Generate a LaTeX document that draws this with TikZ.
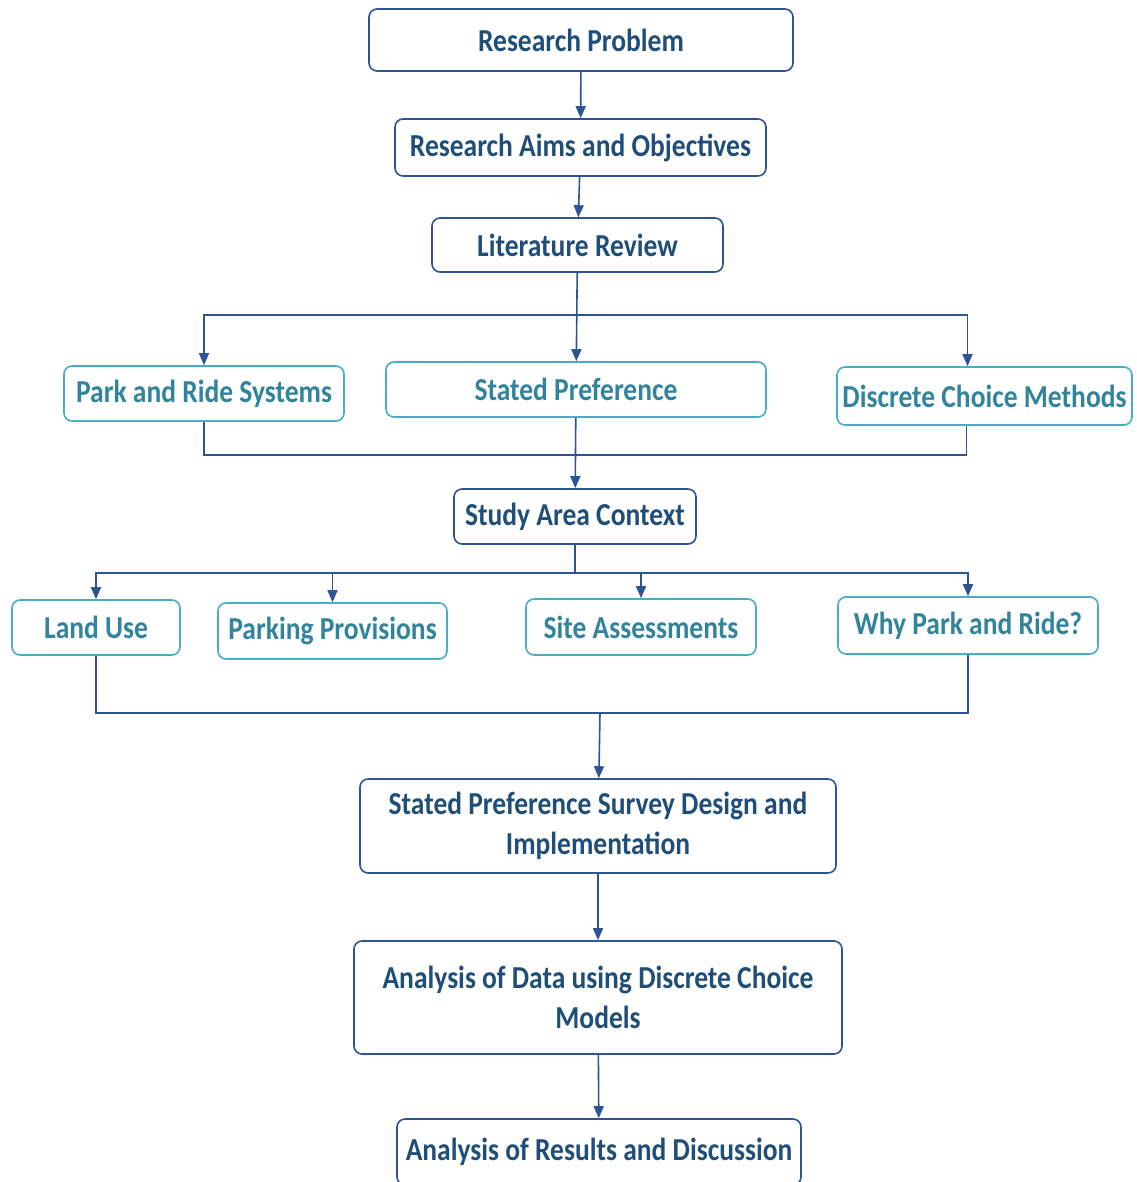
\documentclass[tikz,border=0pt]{standalone}
\usepackage{fontspec}
\setmainfont{Carlito}[FakeStretch=0.86]
\usepackage{tikz}
\usetikzlibrary{arrows.meta}

\definecolor{darkblue}{HTML}{1F4E79}
\definecolor{lineblue}{HTML}{2F5496}
\definecolor{tealtext}{HTML}{31849B}
\definecolor{tealline}{HTML}{4BACC6}

\tikzset{
  main/.style={draw=lineblue, line width=0.8pt, rounded corners=4pt, fill=white,
    text=darkblue, inner sep=0pt, align=center,
    font=\bfseries\fontsize{16}{20}\selectfont},
  topic/.style={main, draw=tealline, text=tealtext},
  link/.style={draw=lineblue, line width=0.8pt},
  arrow/.style={link, -{Triangle[length=6pt, width=5pt]}}
}

\begin{document}
\begin{tikzpicture}[x=0.5pt, y=-0.5pt]

  \useasboundingbox (0,0) rectangle (1136,1182);

  % Define nodes
  \node[main, minimum width=212pt, minimum height=31pt]   (problem) at (581,40)  {Research Problem};
  \node[main, minimum width=185.5pt, minimum height=28.5pt] (aims)  at (580.5,147.5) {Research Aims and Objectives};
  \node[main, minimum width=145.5pt, minimum height=27pt] (lit)     at (577.5,245) {Literature Review};

  \node[topic, minimum width=140pt, minimum height=27.5pt] (prs)  at (204,393.5) {Park and Ride Systems};
  \node[topic, minimum width=190pt, minimum height=27.5pt] (sp)   at (576,389.5) {Stated Preference};
  \node[topic, minimum width=147.5pt, minimum height=29pt] (dcm)  at (984.5,396) {Discrete Choice Methods};

  \node[main, minimum width=121pt, minimum height=27.5pt] (study) at (575,516.5) {Study Area Context};

  \node[topic, minimum width=84pt, minimum height=27.5pt]  (land)  at (96,627.5)  {Land Use};
  \node[topic, minimum width=114.5pt, minimum height=28pt] (park)  at (332.5,631) {Parking Provisions};
  \node[topic, minimum width=115pt, minimum height=28pt]   (site)  at (641,627)   {Site Assessments};
  \node[topic, minimum width=130pt, minimum height=28.5pt] (why)   at (968,625.5) {Why Park and Ride?};

  \node[main, minimum width=238pt, minimum height=47pt]   (survey)  at (598,826)  {Stated Preference Survey Design and\\Implementation};
  \node[main, minimum width=244pt, minimum height=56.5pt] (data)    at (598,997.5) {Analysis of Data using Discrete Choice\\Models};
  \node[main, minimum width=202pt, minimum height=33pt]   (results) at (599,1152) {Analysis of Results and Discussion};

  % Junctions
  \coordinate (split_a) at (577,315);
  \coordinate (join_a)  at (575,455);
  \coordinate (split_b) at (575,573);
  \coordinate (join_b)  at (600,713);

  % Connect the nodes
  \draw[arrow] (problem) -- (aims);
  \draw[arrow] (aims) -- (lit);

  \draw[arrow] (split_a) -| (prs);
  \draw[arrow] (split_a) -| ([xshift=-8.5pt]dcm.north);
  \draw[arrow] (lit) -- (sp);

  \draw[link] (prs) |- (join_a);
  \draw[link] ([xshift=-9pt]dcm.south) |- (join_a);
  \draw[arrow] (sp) -- (study);

  \draw[link] (study) -- (split_b);
  \foreach \n in {land, park, site, why}
    \draw[arrow] (split_b) -| (\n);

  \draw[link] (land) |- (join_b);
  \draw[link] (why) |- (join_b);
  \draw[arrow] (join_b) -- (survey);

  \draw[arrow] (survey) -- (data);
  \draw[arrow] (data) -- (results);

\end{tikzpicture}
\end{document}
